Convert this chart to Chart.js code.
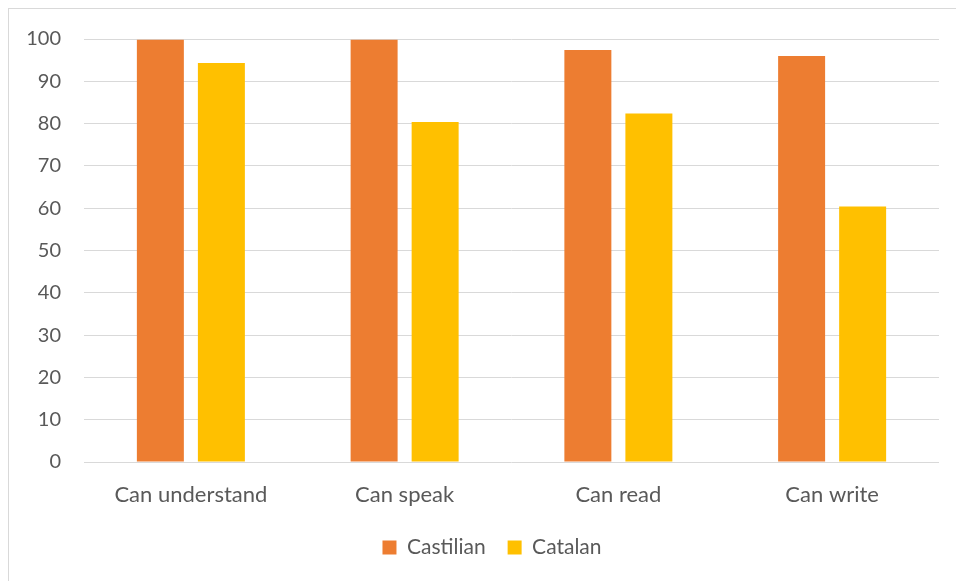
<!DOCTYPE html>
<html>
<head>
<meta charset="utf-8">
<script src="https://cdn.jsdelivr.net/npm/chart.js@4"></script>
<style>
  html, body { margin: 0; padding: 0; background: #fff; overflow: hidden; }
  .frame {
    position: absolute; left: 8px; top: 8px;
    width: 1000px; height: 1000px;
    border: 1px solid #d9d9d9;
  }
  .chart-box { position: absolute; left: 0; top: 0; width: 966px; height: 572px; }
</style>
</head>
<body>
<div class="frame">
  <div class="chart-box"><canvas id="skills-chart"></canvas></div>
</div>
<script>
var categories = ['Can understand', 'Can speak', 'Can read', 'Can write'];
var castilian = [99.8, 99.8, 97.4, 96.0];
var catalan = [94.3, 80.4, 82.4, 60.4];
var yTicks = [0, 10, 20, 30, 40, 50, 60, 70, 80, 90, 100];

var textColor = '#595959';
var gridColor = '#d9d9d9';
var family = 'Lato, "Open Sans", sans-serif';

new Chart(document.getElementById('skills-chart'), {
  type: 'bar',
  data: {
    labels: categories,
    datasets: [
      { label: 'Castilian', data: castilian, backgroundColor: '#ed7d31' },
      { label: 'Catalan', data: catalan, backgroundColor: '#ffc000' }
    ]
  },
  options: {
    responsive: true,
    maintainAspectRatio: false,
    animation: false,
    categoryPercentage: 0.571,
    barPercentage: 0.77,
    layout: { padding: { top: 30, right: 0, left: 0, bottom: 13 } },
    plugins: {
      tooltip: { enabled: false },
      legend: {
        position: 'bottom',
        labels: {
          color: textColor,
          font: { family: family, size: 21 },
          boxWidth: 14,
          boxHeight: 14,
          padding: 22
        }
      }
    },
    scales: {
      x: {
        grid: { display: false },
        border: { display: false },
        ticks: { color: textColor, font: { family: family, size: 22 }, padding: 12, maxRotation: 0 },
        afterFit: function (scale) { scale.height = 53; }
      },
      y: {
        min: 0,
        max: 100,
        afterBuildTicks: function (scale) {
          scale.ticks = yTicks.map(function (v) { return { value: v }; });
        },
        grid: { color: gridColor, lineWidth: 1, tickLength: 23, tickColor: 'rgba(0,0,0,0)' },
        border: { display: false },
        ticks: { color: textColor, font: { family: family, size: 20 }, padding: 0 },
        afterFit: function (scale) { scale.width = 75; }
      },
      // empty right-hand axis: keeps the plot clear of the right edge
      yRight: {
        position: 'right',
        display: true,
        grid: { display: false },
        border: { display: false },
        ticks: { display: false },
        afterFit: function (scale) { scale.width = 36; }
      }
    }
  }
});
</script>
</body>
</html>
